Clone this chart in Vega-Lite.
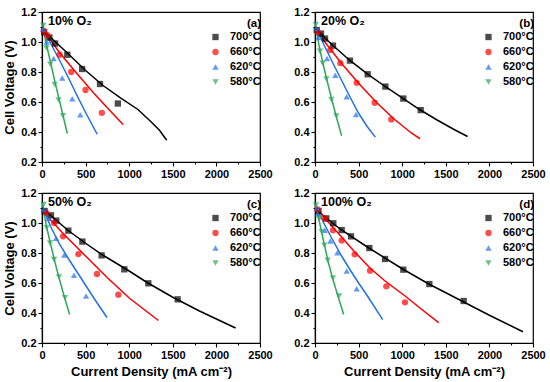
{
  "$schema": "https://vega.github.io/schema/vega-lite/v6.json",
  "padding": {"left": 3, "top": 5, "right": 5, "bottom": 5},
  "columns": 2,
  "spacing": {"row": 31, "column": 55},
  "bounds": "flush",
  "datasets": {
    "pts": [
      {"p":"a","T":"700°C","j":25,"V":1.065},{"p":"a","T":"700°C","j":85,"V":1.03},{"p":"a","T":"700°C","j":150,"V":0.99},{"p":"a","T":"700°C","j":290,"V":0.915},{"p":"a","T":"700°C","j":460,"V":0.82},{"p":"a","T":"700°C","j":665,"V":0.72},{"p":"a","T":"700°C","j":870,"V":0.59},
      {"p":"a","T":"660°C","j":20,"V":1.075},{"p":"a","T":"660°C","j":61,"V":1.045},{"p":"a","T":"660°C","j":202,"V":0.915},{"p":"a","T":"660°C","j":335,"V":0.8},{"p":"a","T":"660°C","j":499,"V":0.68},{"p":"a","T":"660°C","j":686,"V":0.528},
      {"p":"a","T":"620°C","j":15,"V":1.085},{"p":"a","T":"620°C","j":55,"V":1.0},{"p":"a","T":"620°C","j":133,"V":0.89},{"p":"a","T":"620°C","j":232,"V":0.76},{"p":"a","T":"620°C","j":347,"V":0.622},{"p":"a","T":"620°C","j":438,"V":0.515},
      {"p":"a","T":"580°C","j":15,"V":1.11},{"p":"a","T":"580°C","j":50,"V":0.96},{"p":"a","T":"580°C","j":95,"V":0.852},{"p":"a","T":"580°C","j":145,"V":0.716},{"p":"a","T":"580°C","j":190,"V":0.614},{"p":"a","T":"580°C","j":240,"V":0.508},

      {"p":"b","T":"700°C","j":20,"V":1.08},{"p":"b","T":"700°C","j":69,"V":1.056},{"p":"b","T":"700°C","j":115,"V":1.023},{"p":"b","T":"700°C","j":206,"V":0.976},{"p":"b","T":"700°C","j":401,"V":0.876},{"p":"b","T":"700°C","j":604,"V":0.785},{"p":"b","T":"700°C","j":807,"V":0.703},{"p":"b","T":"700°C","j":1013,"V":0.623},{"p":"b","T":"700°C","j":1212,"V":0.546},
      {"p":"b","T":"660°C","j":31,"V":1.065},{"p":"b","T":"660°C","j":176,"V":0.947},{"p":"b","T":"660°C","j":291,"V":0.859},{"p":"b","T":"660°C","j":478,"V":0.728},{"p":"b","T":"660°C","j":684,"V":0.595},{"p":"b","T":"660°C","j":875,"V":0.484},
      {"p":"b","T":"620°C","j":15,"V":1.09},{"p":"b","T":"620°C","j":38,"V":1.03},{"p":"b","T":"620°C","j":138,"V":0.89},{"p":"b","T":"620°C","j":233,"V":0.779},{"p":"b","T":"620°C","j":363,"V":0.635},{"p":"b","T":"620°C","j":470,"V":0.517},
      {"p":"b","T":"580°C","j":8,"V":1.116},{"p":"b","T":"580°C","j":57,"V":0.938},{"p":"b","T":"580°C","j":88,"V":0.859},{"p":"b","T":"580°C","j":130,"V":0.754},{"p":"b","T":"580°C","j":187,"V":0.617},{"p":"b","T":"580°C","j":245,"V":0.506},

      {"p":"c","T":"700°C","j":30,"V":1.08},{"p":"c","T":"700°C","j":103,"V":1.051},{"p":"c","T":"700°C","j":164,"V":1.016},{"p":"c","T":"700°C","j":302,"V":0.949},{"p":"c","T":"700°C","j":463,"V":0.876},{"p":"c","T":"700°C","j":684,"V":0.784},{"p":"c","T":"700°C","j":944,"V":0.691},{"p":"c","T":"700°C","j":1219,"V":0.598},{"p":"c","T":"700°C","j":1556,"V":0.491},
      {"p":"c","T":"660°C","j":46,"V":1.069},{"p":"c","T":"660°C","j":138,"V":1.0},{"p":"c","T":"660°C","j":241,"V":0.911},{"p":"c","T":"660°C","j":417,"V":0.793},{"p":"c","T":"660°C","j":631,"V":0.66},{"p":"c","T":"660°C","j":875,"V":0.522},
      {"p":"c","T":"620°C","j":20,"V":1.09},{"p":"c","T":"620°C","j":76,"V":1.03},{"p":"c","T":"620°C","j":161,"V":0.898},{"p":"c","T":"620°C","j":256,"V":0.787},{"p":"c","T":"620°C","j":367,"V":0.651},{"p":"c","T":"620°C","j":505,"V":0.513},
      {"p":"c","T":"580°C","j":19,"V":1.124},{"p":"c","T":"580°C","j":54,"V":0.969},{"p":"c","T":"580°C","j":92,"V":0.867},{"p":"c","T":"580°C","j":138,"V":0.756},{"p":"c","T":"580°C","j":195,"V":0.64},{"p":"c","T":"580°C","j":264,"V":0.502},

      {"p":"d","T":"700°C","j":40,"V":1.08},{"p":"d","T":"700°C","j":130,"V":1.031},{"p":"d","T":"700°C","j":210,"V":0.998},{"p":"d","T":"700°C","j":306,"V":0.953},{"p":"d","T":"700°C","j":413,"V":0.911},{"p":"d","T":"700°C","j":623,"V":0.833},{"p":"d","T":"700°C","j":803,"V":0.76},{"p":"d","T":"700°C","j":1013,"V":0.689},{"p":"d","T":"700°C","j":1311,"V":0.593},{"p":"d","T":"700°C","j":1705,"V":0.48},
      {"p":"d","T":"660°C","j":30,"V":1.09},{"p":"d","T":"660°C","j":115,"V":1.029},{"p":"d","T":"660°C","j":206,"V":0.951},{"p":"d","T":"660°C","j":306,"V":0.884},{"p":"d","T":"660°C","j":455,"V":0.791},{"p":"d","T":"660°C","j":631,"V":0.682},{"p":"d","T":"660°C","j":818,"V":0.578},{"p":"d","T":"660°C","j":1032,"V":0.471},
      {"p":"d","T":"620°C","j":20,"V":1.1},{"p":"d","T":"620°C","j":30,"V":1.06},{"p":"d","T":"620°C","j":111,"V":0.951},{"p":"d","T":"620°C","j":176,"V":0.88},{"p":"d","T":"620°C","j":256,"V":0.802},{"p":"d","T":"620°C","j":363,"V":0.68},{"p":"d","T":"620°C","j":478,"V":0.562},
      {"p":"d","T":"580°C","j":11,"V":1.12},{"p":"d","T":"580°C","j":50,"V":1.029},{"p":"d","T":"580°C","j":76,"V":0.942},{"p":"d","T":"580°C","j":107,"V":0.851},{"p":"d","T":"580°C","j":145,"V":0.751},{"p":"d","T":"580°C","j":206,"V":0.633},{"p":"d","T":"580°C","j":275,"V":0.513}
    ],
    "fit": [
      {"p":"a","T":"700°C","j":15,"V":1.08},{"p":"a","T":"700°C","j":100,"V":1.03},{"p":"a","T":"700°C","j":300,"V":0.922},{"p":"a","T":"700°C","j":500,"V":0.81},{"p":"a","T":"700°C","j":700,"V":0.71},{"p":"a","T":"700°C","j":900,"V":0.628},{"p":"a","T":"700°C","j":1100,"V":0.55},{"p":"a","T":"700°C","j":1250,"V":0.468},{"p":"a","T":"700°C","j":1350,"V":0.41},{"p":"a","T":"700°C","j":1430,"V":0.345},
      {"p":"a","T":"660°C","j":15,"V":1.08},{"p":"a","T":"660°C","j":200,"V":0.93},{"p":"a","T":"660°C","j":400,"V":0.79},{"p":"a","T":"660°C","j":600,"V":0.655},{"p":"a","T":"660°C","j":800,"V":0.53},{"p":"a","T":"660°C","j":930,"V":0.45},
      {"p":"a","T":"620°C","j":10,"V":1.09},{"p":"a","T":"620°C","j":100,"V":0.99},{"p":"a","T":"620°C","j":200,"V":0.88},{"p":"a","T":"620°C","j":300,"V":0.765},{"p":"a","T":"620°C","j":400,"V":0.645},{"p":"a","T":"620°C","j":500,"V":0.53},{"p":"a","T":"620°C","j":633,"V":0.385},
      {"p":"a","T":"580°C","j":10,"V":1.12},{"p":"a","T":"580°C","j":40,"V":1.01},{"p":"a","T":"580°C","j":100,"V":0.86},{"p":"a","T":"580°C","j":150,"V":0.73},{"p":"a","T":"580°C","j":200,"V":0.61},{"p":"a","T":"580°C","j":245,"V":0.5},{"p":"a","T":"580°C","j":290,"V":0.39},

      {"p":"b","T":"700°C","j":10,"V":1.095},{"p":"b","T":"700°C","j":100,"V":1.035},{"p":"b","T":"700°C","j":200,"V":0.98},{"p":"b","T":"700°C","j":400,"V":0.877},{"p":"b","T":"700°C","j":600,"V":0.787},{"p":"b","T":"700°C","j":800,"V":0.705},{"p":"b","T":"700°C","j":1000,"V":0.628},{"p":"b","T":"700°C","j":1200,"V":0.55},{"p":"b","T":"700°C","j":1400,"V":0.48},{"p":"b","T":"700°C","j":1600,"V":0.415},{"p":"b","T":"700°C","j":1750,"V":0.37},
      {"p":"b","T":"660°C","j":10,"V":1.09},{"p":"b","T":"660°C","j":100,"V":1.01},{"p":"b","T":"660°C","j":200,"V":0.935},{"p":"b","T":"660°C","j":300,"V":0.86},{"p":"b","T":"660°C","j":500,"V":0.725},{"p":"b","T":"660°C","j":700,"V":0.6},{"p":"b","T":"660°C","j":900,"V":0.49},{"p":"b","T":"660°C","j":1100,"V":0.395},{"p":"b","T":"660°C","j":1205,"V":0.355},
      {"p":"b","T":"620°C","j":10,"V":1.1},{"p":"b","T":"620°C","j":100,"V":0.985},{"p":"b","T":"620°C","j":200,"V":0.865},{"p":"b","T":"620°C","j":300,"V":0.75},{"p":"b","T":"620°C","j":400,"V":0.635},{"p":"b","T":"620°C","j":500,"V":0.525},{"p":"b","T":"620°C","j":600,"V":0.435},{"p":"b","T":"620°C","j":692,"V":0.366},
      {"p":"b","T":"580°C","j":5,"V":1.12},{"p":"b","T":"580°C","j":50,"V":0.965},{"p":"b","T":"580°C","j":100,"V":0.835},{"p":"b","T":"580°C","j":150,"V":0.715},{"p":"b","T":"580°C","j":200,"V":0.6},{"p":"b","T":"580°C","j":250,"V":0.49},{"p":"b","T":"580°C","j":305,"V":0.375},

      {"p":"c","T":"700°C","j":10,"V":1.1},{"p":"c","T":"700°C","j":100,"V":1.05},{"p":"c","T":"700°C","j":300,"V":0.95},{"p":"c","T":"700°C","j":500,"V":0.865},{"p":"c","T":"700°C","j":700,"V":0.785},{"p":"c","T":"700°C","j":1000,"V":0.68},{"p":"c","T":"700°C","j":1200,"V":0.605},{"p":"c","T":"700°C","j":1500,"V":0.505},{"p":"c","T":"700°C","j":1800,"V":0.415},{"p":"c","T":"700°C","j":2000,"V":0.36},{"p":"c","T":"700°C","j":2220,"V":0.3},
      {"p":"c","T":"660°C","j":10,"V":1.09},{"p":"c","T":"660°C","j":100,"V":1.02},{"p":"c","T":"660°C","j":250,"V":0.925},{"p":"c","T":"660°C","j":500,"V":0.78},{"p":"c","T":"660°C","j":750,"V":0.635},{"p":"c","T":"660°C","j":1000,"V":0.5},{"p":"c","T":"660°C","j":1335,"V":0.35},
      {"p":"c","T":"620°C","j":10,"V":1.1},{"p":"c","T":"620°C","j":100,"V":0.975},{"p":"c","T":"620°C","j":200,"V":0.86},{"p":"c","T":"620°C","j":300,"V":0.765},{"p":"c","T":"620°C","j":400,"V":0.675},{"p":"c","T":"620°C","j":500,"V":0.585},{"p":"c","T":"620°C","j":600,"V":0.495},{"p":"c","T":"620°C","j":745,"V":0.37},
      {"p":"c","T":"580°C","j":5,"V":1.13},{"p":"c","T":"580°C","j":50,"V":0.98},{"p":"c","T":"580°C","j":100,"V":0.855},{"p":"c","T":"580°C","j":150,"V":0.735},{"p":"c","T":"580°C","j":200,"V":0.625},{"p":"c","T":"580°C","j":260,"V":0.5},{"p":"c","T":"580°C","j":317,"V":0.39},

      {"p":"d","T":"700°C","j":10,"V":1.1},{"p":"d","T":"700°C","j":100,"V":1.045},{"p":"d","T":"700°C","j":300,"V":0.955},{"p":"d","T":"700°C","j":600,"V":0.84},{"p":"d","T":"700°C","j":1000,"V":0.695},{"p":"d","T":"700°C","j":1300,"V":0.595},{"p":"d","T":"700°C","j":1700,"V":0.475},{"p":"d","T":"700°C","j":2000,"V":0.385},{"p":"d","T":"700°C","j":2385,"V":0.275},
      {"p":"d","T":"660°C","j":10,"V":1.1},{"p":"d","T":"660°C","j":100,"V":1.04},{"p":"d","T":"660°C","j":300,"V":0.91},{"p":"d","T":"660°C","j":450,"V":0.81},{"p":"d","T":"660°C","j":630,"V":0.7},{"p":"d","T":"660°C","j":800,"V":0.615},{"p":"d","T":"660°C","j":1030,"V":0.515},{"p":"d","T":"660°C","j":1200,"V":0.435},{"p":"d","T":"660°C","j":1418,"V":0.336},
      {"p":"d","T":"620°C","j":10,"V":1.11},{"p":"d","T":"620°C","j":100,"V":1.0},{"p":"d","T":"620°C","j":200,"V":0.89},{"p":"d","T":"620°C","j":300,"V":0.785},{"p":"d","T":"620°C","j":400,"V":0.69},{"p":"d","T":"620°C","j":500,"V":0.6},{"p":"d","T":"620°C","j":600,"V":0.515},{"p":"d","T":"620°C","j":776,"V":0.356},
      {"p":"d","T":"580°C","j":5,"V":1.12},{"p":"d","T":"580°C","j":50,"V":1.01},{"p":"d","T":"580°C","j":100,"V":0.875},{"p":"d","T":"580°C","j":150,"V":0.745},{"p":"d","T":"580°C","j":200,"V":0.635},{"p":"d","T":"580°C","j":270,"V":0.5},{"p":"d","T":"580°C","j":329,"V":0.39}
    ]
  },
  "concat": [
    {
      "width": 218, "height": 150,
      "title": {"text": "10% O₂", "anchor": "start", "frame": "group", "offset": -7, "baseline": "middle", "dx": 6, "dy": 20},
      "resolve": {"axis": {"x": "independent", "y": "independent"}},
      "layer": [
        {"data": {"name": "fit"}, "transform": [{"filter": "datum.p === 'a' && datum.T === '700°C'"}], "mark": {"type": "line", "strokeWidth": 1.5, "color": "#000000"},
         "encoding": {
          "x": {"field": "j", "type": "quantitative", "scale": {"domain": [0, 2500], "nice": false}, "axis": {"title": null, "orient": "bottom", "format": "d", "values": [0,500,1000,1500,2000,2500]}},
          "y": {"field": "V", "type": "quantitative", "scale": {"domain": [0.2, 1.2], "nice": false}, "axis": {"title": "Cell Voltage (V)", "orient": "left", "format": ".1f", "values": [0.2,0.4,0.6,0.8,1.0,1.2]}}}},
        {"data": {"name": "fit"}, "transform": [{"filter": "datum.p === 'a' && datum.T === '660°C'"}], "mark": {"type": "line", "strokeWidth": 1.5, "color": "#ff0000"}, "encoding": {"x": {"field": "j", "type": "quantitative", "axis": null}, "y": {"field": "V", "type": "quantitative", "axis": null}}},
        {"data": {"name": "fit"}, "transform": [{"filter": "datum.p === 'a' && datum.T === '620°C'"}], "mark": {"type": "line", "strokeWidth": 1.5, "color": "#2271e8"}, "encoding": {"x": {"field": "j", "type": "quantitative", "axis": null}, "y": {"field": "V", "type": "quantitative", "axis": null}}},
        {"data": {"name": "fit"}, "transform": [{"filter": "datum.p === 'a' && datum.T === '580°C'"}], "mark": {"type": "line", "strokeWidth": 1.5, "color": "#2ea85a"}, "encoding": {"x": {"field": "j", "type": "quantitative", "axis": null}, "y": {"field": "V", "type": "quantitative", "axis": null}}},
        {"data": {"name": "pts"}, "transform": [{"filter": "datum.p === 'a'"}], "mark": {"type": "point", "filled": true, "size": 40},
         "encoding": {
          "x": {"field": "j", "type": "quantitative", "axis": {"title": null, "orient": "bottom", "values": [250,750,1250,1750,2250], "labels": false, "domain": false, "tickSize": 2}},
          "y": {"field": "V", "type": "quantitative", "axis": {"title": null, "orient": "left", "values": [0.3,0.5,0.7,0.9,1.1], "labels": false, "domain": false, "tickSize": 2}},
          "color": {"field": "T", "type": "nominal", "sort": "descending", "scale": {"range": ["#000000","#ff0000","#2271e8","#2ea85a"]}, "legend": {"title": "(a)", "orient": "none", "legendX": 168, "legendY": 6}},
          "shape": {"field": "T", "type": "nominal", "sort": "descending", "scale": {"range": ["square","circle","triangle-up","triangle-down"]}, "legend": {"title": "(a)", "orient": "none", "legendX": 168, "legendY": 6}}}}
      ]
    },
    {
      "width": 218, "height": 150,
      "title": {"text": "20% O₂", "anchor": "start", "frame": "group", "offset": -7, "baseline": "middle", "dx": 6, "dy": 20},
      "resolve": {"axis": {"x": "independent", "y": "independent"}},
      "layer": [
        {"data": {"name": "fit"}, "transform": [{"filter": "datum.p === 'b' && datum.T === '700°C'"}], "mark": {"type": "line", "strokeWidth": 1.5, "color": "#000000"},
         "encoding": {
          "x": {"field": "j", "type": "quantitative", "scale": {"domain": [0, 2500], "nice": false}, "axis": {"title": null, "orient": "bottom", "format": "d", "values": [0,500,1000,1500,2000,2500]}},
          "y": {"field": "V", "type": "quantitative", "scale": {"domain": [0.2, 1.2], "nice": false}, "axis": {"title": null, "orient": "left", "format": ".1f", "values": [0.2,0.4,0.6,0.8,1.0,1.2]}}}},
        {"data": {"name": "fit"}, "transform": [{"filter": "datum.p === 'b' && datum.T === '660°C'"}], "mark": {"type": "line", "strokeWidth": 1.5, "color": "#ff0000"}, "encoding": {"x": {"field": "j", "type": "quantitative", "axis": null}, "y": {"field": "V", "type": "quantitative", "axis": null}}},
        {"data": {"name": "fit"}, "transform": [{"filter": "datum.p === 'b' && datum.T === '620°C'"}], "mark": {"type": "line", "strokeWidth": 1.5, "color": "#2271e8"}, "encoding": {"x": {"field": "j", "type": "quantitative", "axis": null}, "y": {"field": "V", "type": "quantitative", "axis": null}}},
        {"data": {"name": "fit"}, "transform": [{"filter": "datum.p === 'b' && datum.T === '580°C'"}], "mark": {"type": "line", "strokeWidth": 1.5, "color": "#2ea85a"}, "encoding": {"x": {"field": "j", "type": "quantitative", "axis": null}, "y": {"field": "V", "type": "quantitative", "axis": null}}},
        {"data": {"name": "pts"}, "transform": [{"filter": "datum.p === 'b'"}], "mark": {"type": "point", "filled": true, "size": 40},
         "encoding": {
          "x": {"field": "j", "type": "quantitative", "axis": {"title": null, "orient": "bottom", "values": [250,750,1250,1750,2250], "labels": false, "domain": false, "tickSize": 2}},
          "y": {"field": "V", "type": "quantitative", "axis": {"title": null, "orient": "left", "values": [0.3,0.5,0.7,0.9,1.1], "labels": false, "domain": false, "tickSize": 2}},
          "color": {"field": "T", "type": "nominal", "sort": "descending", "scale": {"range": ["#000000","#ff0000","#2271e8","#2ea85a"]}, "legend": {"title": "(b)", "orient": "none", "legendX": 168, "legendY": 6}},
          "shape": {"field": "T", "type": "nominal", "sort": "descending", "scale": {"range": ["square","circle","triangle-up","triangle-down"]}, "legend": {"title": "(b)", "orient": "none", "legendX": 168, "legendY": 6}}}}
      ]
    },
    {
      "width": 218, "height": 150,
      "title": {"text": "50% O₂", "anchor": "start", "frame": "group", "offset": -7, "baseline": "middle", "dx": 6, "dy": 20},
      "resolve": {"axis": {"x": "independent", "y": "independent"}},
      "layer": [
        {"data": {"name": "fit"}, "transform": [{"filter": "datum.p === 'c' && datum.T === '700°C'"}], "mark": {"type": "line", "strokeWidth": 1.5, "color": "#000000"},
         "encoding": {
          "x": {"field": "j", "type": "quantitative", "scale": {"domain": [0, 2500], "nice": false}, "axis": {"title": "Current Density (mA cm⁻²)", "orient": "bottom", "format": "d", "values": [0,500,1000,1500,2000,2500]}},
          "y": {"field": "V", "type": "quantitative", "scale": {"domain": [0.2, 1.2], "nice": false}, "axis": {"title": "Cell Voltage (V)", "orient": "left", "format": ".1f", "values": [0.2,0.4,0.6,0.8,1.0,1.2]}}}},
        {"data": {"name": "fit"}, "transform": [{"filter": "datum.p === 'c' && datum.T === '660°C'"}], "mark": {"type": "line", "strokeWidth": 1.5, "color": "#ff0000"}, "encoding": {"x": {"field": "j", "type": "quantitative", "axis": null}, "y": {"field": "V", "type": "quantitative", "axis": null}}},
        {"data": {"name": "fit"}, "transform": [{"filter": "datum.p === 'c' && datum.T === '620°C'"}], "mark": {"type": "line", "strokeWidth": 1.5, "color": "#2271e8"}, "encoding": {"x": {"field": "j", "type": "quantitative", "axis": null}, "y": {"field": "V", "type": "quantitative", "axis": null}}},
        {"data": {"name": "fit"}, "transform": [{"filter": "datum.p === 'c' && datum.T === '580°C'"}], "mark": {"type": "line", "strokeWidth": 1.5, "color": "#2ea85a"}, "encoding": {"x": {"field": "j", "type": "quantitative", "axis": null}, "y": {"field": "V", "type": "quantitative", "axis": null}}},
        {"data": {"name": "pts"}, "transform": [{"filter": "datum.p === 'c'"}], "mark": {"type": "point", "filled": true, "size": 40},
         "encoding": {
          "x": {"field": "j", "type": "quantitative", "axis": {"title": null, "orient": "bottom", "values": [250,750,1250,1750,2250], "labels": false, "domain": false, "tickSize": 2}},
          "y": {"field": "V", "type": "quantitative", "axis": {"title": null, "orient": "left", "values": [0.3,0.5,0.7,0.9,1.1], "labels": false, "domain": false, "tickSize": 2}},
          "color": {"field": "T", "type": "nominal", "sort": "descending", "scale": {"range": ["#000000","#ff0000","#2271e8","#2ea85a"]}, "legend": {"title": "(c)", "orient": "none", "legendX": 168, "legendY": 6}},
          "shape": {"field": "T", "type": "nominal", "sort": "descending", "scale": {"range": ["square","circle","triangle-up","triangle-down"]}, "legend": {"title": "(c)", "orient": "none", "legendX": 168, "legendY": 6}}}}
      ]
    },
    {
      "width": 218, "height": 150,
      "title": {"text": "100% O₂", "anchor": "start", "frame": "group", "offset": -7, "baseline": "middle", "dx": 6, "dy": 20},
      "resolve": {"axis": {"x": "independent", "y": "independent"}},
      "layer": [
        {"data": {"name": "fit"}, "transform": [{"filter": "datum.p === 'd' && datum.T === '700°C'"}], "mark": {"type": "line", "strokeWidth": 1.5, "color": "#000000"},
         "encoding": {
          "x": {"field": "j", "type": "quantitative", "scale": {"domain": [0, 2500], "nice": false}, "axis": {"title": "Current Density (mA cm⁻²)", "orient": "bottom", "format": "d", "values": [0,500,1000,1500,2000,2500]}},
          "y": {"field": "V", "type": "quantitative", "scale": {"domain": [0.2, 1.2], "nice": false}, "axis": {"title": null, "orient": "left", "format": ".1f", "values": [0.2,0.4,0.6,0.8,1.0,1.2]}}}},
        {"data": {"name": "fit"}, "transform": [{"filter": "datum.p === 'd' && datum.T === '660°C'"}], "mark": {"type": "line", "strokeWidth": 1.5, "color": "#ff0000"}, "encoding": {"x": {"field": "j", "type": "quantitative", "axis": null}, "y": {"field": "V", "type": "quantitative", "axis": null}}},
        {"data": {"name": "fit"}, "transform": [{"filter": "datum.p === 'd' && datum.T === '620°C'"}], "mark": {"type": "line", "strokeWidth": 1.5, "color": "#2271e8"}, "encoding": {"x": {"field": "j", "type": "quantitative", "axis": null}, "y": {"field": "V", "type": "quantitative", "axis": null}}},
        {"data": {"name": "fit"}, "transform": [{"filter": "datum.p === 'd' && datum.T === '580°C'"}], "mark": {"type": "line", "strokeWidth": 1.5, "color": "#2ea85a"}, "encoding": {"x": {"field": "j", "type": "quantitative", "axis": null}, "y": {"field": "V", "type": "quantitative", "axis": null}}},
        {"data": {"name": "pts"}, "transform": [{"filter": "datum.p === 'd'"}], "mark": {"type": "point", "filled": true, "size": 40},
         "encoding": {
          "x": {"field": "j", "type": "quantitative", "axis": {"title": null, "orient": "bottom", "values": [250,750,1250,1750,2250], "labels": false, "domain": false, "tickSize": 2}},
          "y": {"field": "V", "type": "quantitative", "axis": {"title": null, "orient": "left", "values": [0.3,0.5,0.7,0.9,1.1], "labels": false, "domain": false, "tickSize": 2}},
          "color": {"field": "T", "type": "nominal", "sort": "descending", "scale": {"range": ["#000000","#ff0000","#2271e8","#2ea85a"]}, "legend": {"title": "(d)", "orient": "none", "legendX": 168, "legendY": 6}},
          "shape": {"field": "T", "type": "nominal", "sort": "descending", "scale": {"range": ["square","circle","triangle-up","triangle-down"]}, "legend": {"title": "(d)", "orient": "none", "legendX": 168, "legendY": 6}}}}
      ]
    }
  ],
  "resolve": {
    "scale": {"color": "independent", "shape": "independent"},
    "legend": {"color": "independent", "shape": "independent"}
  },
  "config": {
    "view": {"stroke": "#000000", "strokeWidth": 1.2},
    "title": {"font": "Liberation Sans", "fontSize": 12.5, "fontWeight": "bold", "color": "#000000"},
    "axis": {
      "grid": false,
      "domainColor": "#000000", "domainWidth": 1.2,
      "tickColor": "#000000", "tickWidth": 1.1, "tickSize": 4,
      "labelFont": "Liberation Sans", "labelFontSize": 11, "labelFontWeight": "bold", "labelColor": "#000000", "labelPadding": 2, "labelFlush": false, "labelOverlap": false,
      "titleFont": "Liberation Sans", "titleFontSize": 13, "titleFontWeight": "bold", "titleColor": "#000000"
    },
    "axisX": {"titlePadding": 5},
    "axisY": {"titlePadding": 4},
    "legend": {
      "padding": 0,
      "titleFont": "Liberation Sans", "titleFontSize": 11.5, "titleFontWeight": "bold", "titleColor": "#000000", "titleAnchor": "end", "titlePadding": 2,
      "labelFont": "Liberation Sans", "labelFontSize": 11, "labelFontWeight": "bold", "labelColor": "#000000",
      "symbolSize": 40, "symbolStrokeWidth": 0, "rowPadding": 3, "labelOffset": 9
    }
  }
}
